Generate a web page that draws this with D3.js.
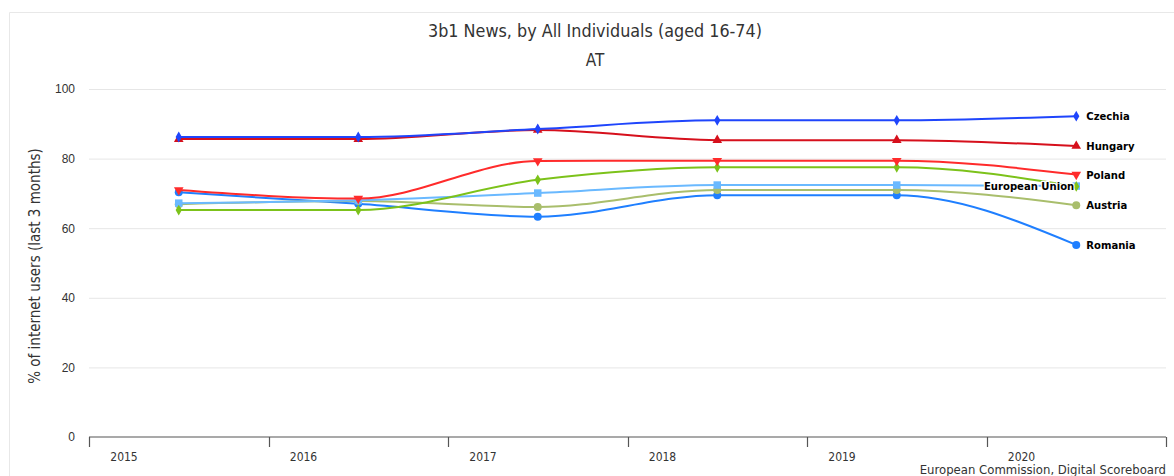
<!DOCTYPE html>
<html><head><meta charset="utf-8">
<script src="https://cdn.jsdelivr.net/npm/d3@7"></script>
<style>
body{margin:0;background:#fff;}
svg{display:block;font-family:"DejaVu Sans Condensed","DejaVu Sans",sans-serif;}
</style></head>
<body><svg id="c" width="1174" height="476"></svg>
<script>
const years = ["2015","2016","2017","2018","2019","2020"];
const seriesNames = ["Czechia","Hungary","Poland","Slovakia","European Union","Austria","Romania"];
const czechia = [86.2, 86.2, 88.5, 91.0, 91.0, 92.2];
const hungary = [85.6, 85.6, 88.2, 85.3, 85.3, 83.6];
const poland = [71.0, 68.5, 79.3, 79.4, 79.4, 75.4];
const slovakia = [65.2, 65.2, 73.9, 77.5, 77.5, 72.0];
const europeanUnion = [67.2, 68.0, 70.1, 72.4, 72.4, 72.1];
const austria = [66.9, 67.8, 66.1, 71.0, 71.0, 66.6];
const romania = [70.3, 67.0, 63.3, 69.5, 69.5, 55.2];
const yTicks = [0, 20, 40, 60, 80, 100];
const shownLabels = ["Czechia","Hungary","Poland","European Union","Austria","Romania"];

const values = [czechia, hungary, poland, slovakia, europeanUnion, austria, romania];
const colors = ["#1f45fc","#d6101c","#ff2b2b","#7cc21a","#6ab9ff","#a9be6c","#1f7fff"];
const symbols = [d3.symbolDiamond, d3.symbolTriangle, "down", d3.symbolDiamond, d3.symbolSquare, d3.symbolCircle, d3.symbolCircle];
const symSizes = [34, 40, 40, 34, 56, 50, 50];
const drawOrder = [6,5,4,3,2,1,0];

const svg = d3.select("#c");
const L = 89, R = 1166, T = 89, B = 437;
const x = d3.scaleBand().domain(years).range([L, R]).padding(0);
const y = d3.scaleLinear().domain([0, 100]).range([B, T]);
const cx = d => x(d) + x.bandwidth() / 2;

// container border
svg.append("path").attr("d", `M9.5,${476}V12.5H1174`).attr("fill","none").attr("stroke","#e8e8e8");

// title
svg.append("text").attr("x", 595).attr("y", 37).attr("text-anchor","middle")
  .attr("font-size", 17.8).attr("fill","#333").text("3b1 News, by All Individuals (aged 16-74)");
svg.append("text").attr("x", 595).attr("y", 66).attr("text-anchor","middle")
  .attr("font-size", 17).attr("fill","#333").text("AT");

// grid
const gy = svg.append("g").attr("transform", `translate(${L},0)`)
  .call(d3.axisLeft(y).tickValues(yTicks).tickSize(-(R - L)).tickPadding(14).tickFormat(d3.format("d")));
gy.select(".domain").remove();
gy.selectAll(".tick line").attr("stroke", d => d === 0 ? "none" : "#e6e6e6");
gy.selectAll(".tick text").attr("font-size", 12).attr("fill","#333").attr("font-family","inherit");

// y title
svg.append("text").attr("transform", "translate(40,266) rotate(-90)").attr("text-anchor","middle")
  .attr("font-size", 15).attr("fill","#333").text("% of internet users (last 3 months)");

// x axis
const gx = svg.append("g").attr("transform", `translate(0,${B})`);
gx.append("line").attr("x1", L).attr("x2", R).attr("stroke","#555").attr("stroke-width",1.2);
const bounds = years.map(d => x(d)).concat([R]);
gx.selectAll(".tk").data(bounds).join("line").attr("class","tk")
  .attr("x1", d => Math.round(d) + 0.5).attr("x2", d => Math.round(d) + 0.5).attr("y1", 0).attr("y2", 10)
  .attr("stroke","#555").attr("stroke-width",1.2);
gx.selectAll(".tl").data(years).join("text").attr("class","tl")
  .attr("x", d => x(d) + 35).attr("y", 24).attr("text-anchor","middle")
  .attr("font-size", 12).attr("fill","#333").text(d => d);

// lines
const line = d3.line().x((v, i) => cx(years[i])).y(v => y(v)).curve(d3.curveMonotoneX);
const gs = svg.append("g");
drawOrder.forEach(si => {
  const g = gs.append("g");
  g.append("path").attr("d", line(values[si])).attr("fill","none")
    .attr("stroke", colors[si]).attr("stroke-width", 2);
  g.selectAll("path.m").data(values[si]).join("path").attr("class","m")
    .attr("transform", (v, i) => `translate(${cx(years[i])},${y(v)})` + (symbols[si] === "down" ? " rotate(180)" : ""))
    .attr("d", d3.symbol().type(symbols[si] === "down" ? d3.symbolTriangle : symbols[si]).size(symSizes[si]))
    .attr("fill", colors[si]);
});

// series labels
const last = years.length - 1;
seriesNames.forEach((name, si) => {
  if (!shownLabels.includes(name)) return;
  const px = cx(years[last]), py = y(values[si][last]);
  const left = name === "European Union";
  svg.append("text").attr("x", left ? px - 2 : px + 10).attr("y", py + 4)
    .attr("text-anchor", left ? "end" : "start").attr("font-size", 11.2).attr("font-weight","bold")
    .attr("fill","#000").attr("stroke","#fff").attr("stroke-width",2.5).attr("paint-order","stroke")
    .attr("stroke-linejoin","round").text(name);
});

// credits
svg.append("text").attr("x", 1166).attr("y", 474).attr("text-anchor","end")
  .attr("font-size", 13).attr("fill","#333").text("European Commission, Digital Scoreboard");
</script></body></html>
